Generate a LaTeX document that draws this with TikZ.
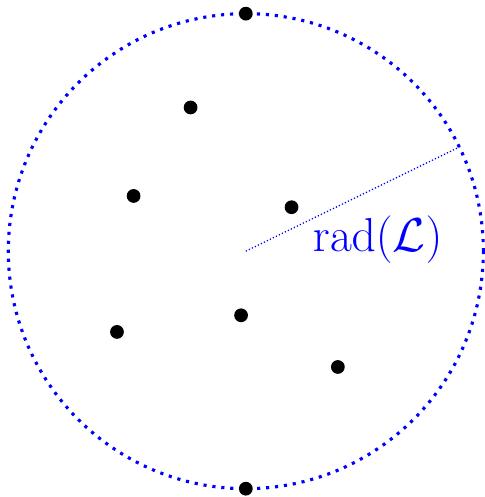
\documentclass[tikz,border=0pt]{standalone}
\usepackage{amsmath,amssymb}
\usepackage{tikz}
\usetikzlibrary{positioning}

\tikzset{
  pt/.style={fill=black},
  bigdots/.style={blue,line width=1.5pt,dash pattern=on 1.5pt off 2.8pt},
  raddots/.style={blue,line width=0.6pt,densely dotted}
}

\begin{document}
\begin{tikzpicture}
\useasboundingbox (-4.14,-4.14) rectangle (4.02,4.23);
\coordinate (O) at (0,0);
\coordinate (R) at (26:4);
% enclosing circle
\draw[bigdots] (O) circle (4);
\draw[raddots] (O) -- (R);
\node[blue,font=\huge,scale=1.1] (radlabel) at (2.22,0.2) {$\mathrm{rad}(\mathcal{L})$};
% the points
\foreach \p/\q in {0/4, 0/-4, -0.93/2.42, -1.89/0.93, 0.77/0.74, -2.17/-1.36, -0.08/-1.08, 1.55/-1.95}
  \fill[pt] (\p,\q) circle (3.3pt);
\end{tikzpicture}
\end{document}
